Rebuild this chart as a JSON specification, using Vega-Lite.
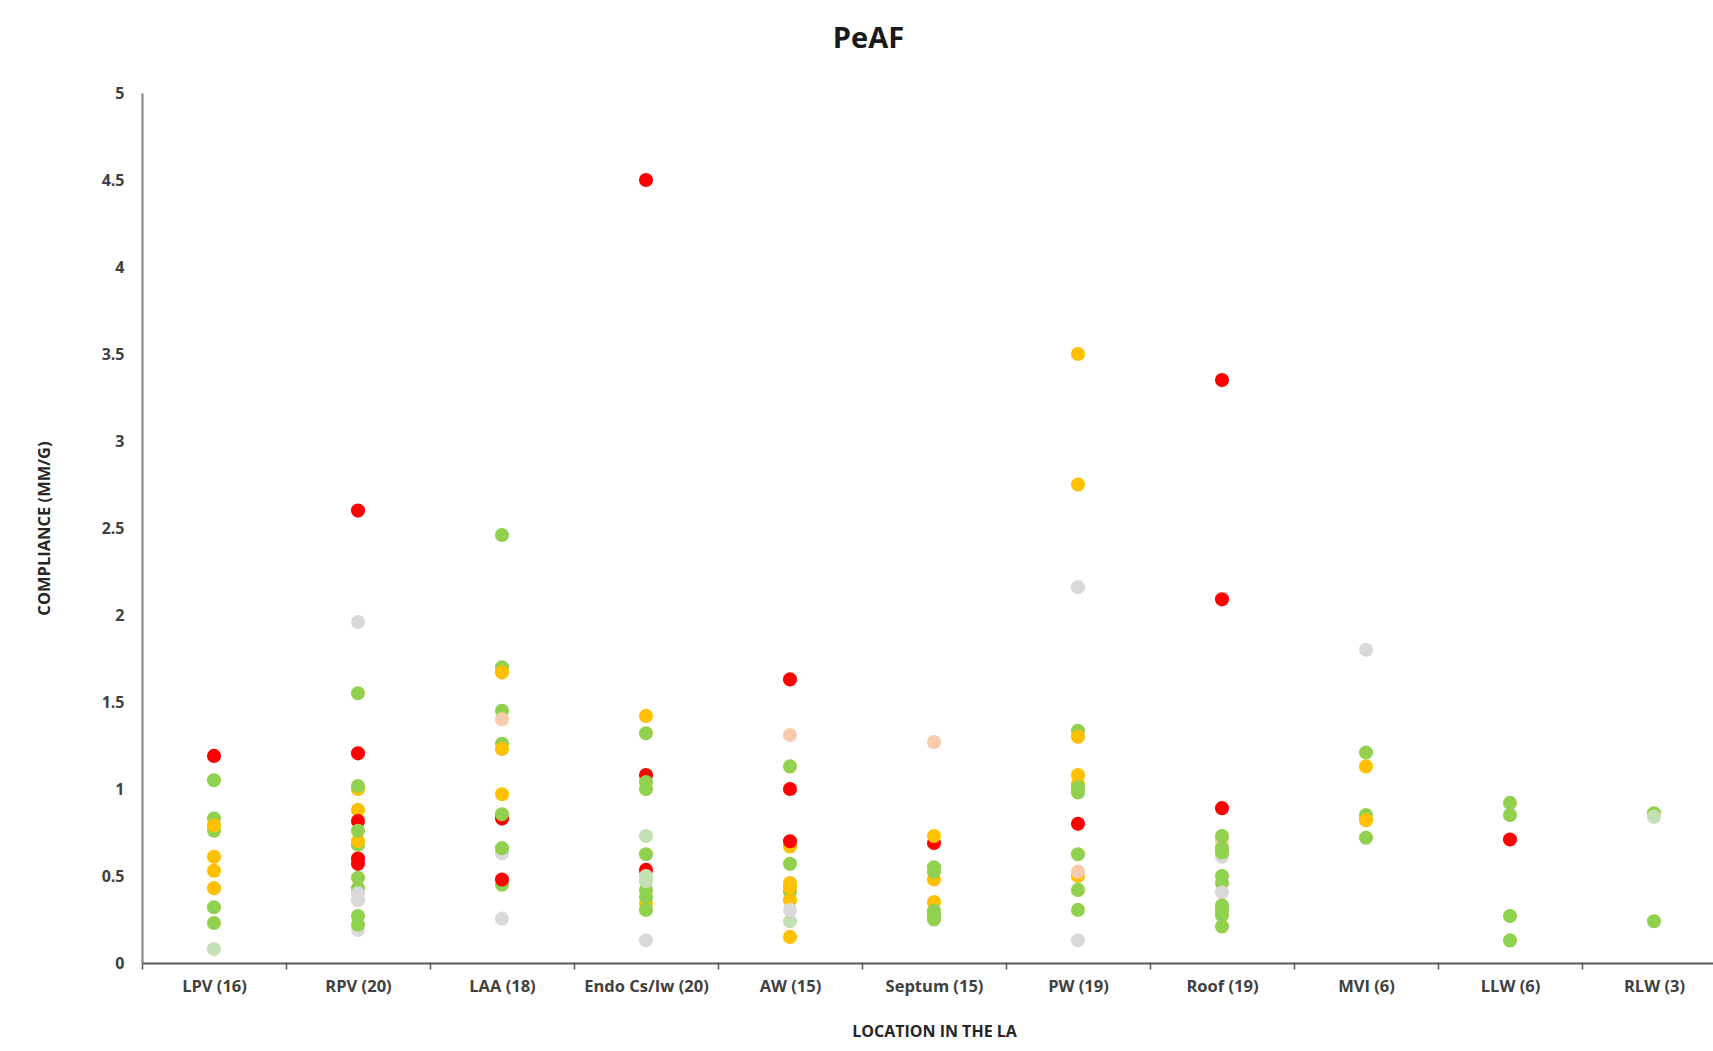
{
  "$schema": "https://vega.github.io/schema/vega-lite/v6.json",
  "width": 1571,
  "height": 870,
  "autosize": {"type": "none"},
  "padding": {"left": 142, "top": 93, "right": 0, "bottom": 88},
  "background": "white",
  "title": {
    "text": "PeAF",
    "font": "Open Sans",
    "fontSize": 29,
    "fontWeight": "bold",
    "color": "#1a1a1a",
    "anchor": "middle",
    "baseline": "middle",
    "offset": 17,
    "dx": -59
  },
  "config": {
    "view": {"stroke": null},
    "axis": {"grid": false, "labelFont": "Open Sans", "titleFont": "Open Sans", "labelFontWeight": "bold", "titleFontWeight": "bold", "labelColor": "#404040", "titleColor": "#262626"}
  },
  "data": {
    "values": [
      {"loc": "LPV (16)", "v": 1.19, "c": "r"},
      {"loc": "LPV (16)", "v": 1.05, "c": "g"},
      {"loc": "LPV (16)", "v": 0.83, "c": "g"},
      {"loc": "LPV (16)", "v": 0.76, "c": "g"},
      {"loc": "LPV (16)", "v": 0.79, "c": "o"},
      {"loc": "LPV (16)", "v": 0.61, "c": "o"},
      {"loc": "LPV (16)", "v": 0.53, "c": "o"},
      {"loc": "LPV (16)", "v": 0.43, "c": "o"},
      {"loc": "LPV (16)", "v": 0.32, "c": "g"},
      {"loc": "LPV (16)", "v": 0.23, "c": "g"},
      {"loc": "LPV (16)", "v": 0.08, "c": "l"},

      {"loc": "RPV (20)", "v": 2.60, "c": "r"},
      {"loc": "RPV (20)", "v": 1.96, "c": "y"},
      {"loc": "RPV (20)", "v": 1.55, "c": "g"},
      {"loc": "RPV (20)", "v": 1.205, "c": "r"},
      {"loc": "RPV (20)", "v": 1.0, "c": "o"},
      {"loc": "RPV (20)", "v": 1.017, "c": "g"},
      {"loc": "RPV (20)", "v": 0.88, "c": "o"},
      {"loc": "RPV (20)", "v": 0.816, "c": "r"},
      {"loc": "RPV (20)", "v": 0.68, "c": "g"},
      {"loc": "RPV (20)", "v": 0.70, "c": "o"},
      {"loc": "RPV (20)", "v": 0.76, "c": "g"},
      {"loc": "RPV (20)", "v": 0.60, "c": "r"},
      {"loc": "RPV (20)", "v": 0.57, "c": "r"},
      {"loc": "RPV (20)", "v": 0.49, "c": "g"},
      {"loc": "RPV (20)", "v": 0.43, "c": "g"},
      {"loc": "RPV (20)", "v": 0.40, "c": "y"},
      {"loc": "RPV (20)", "v": 0.36, "c": "y"},
      {"loc": "RPV (20)", "v": 0.19, "c": "y"},
      {"loc": "RPV (20)", "v": 0.27, "c": "g"},
      {"loc": "RPV (20)", "v": 0.22, "c": "g"},

      {"loc": "LAA (18)", "v": 2.46, "c": "g"},
      {"loc": "LAA (18)", "v": 1.70, "c": "g"},
      {"loc": "LAA (18)", "v": 1.67, "c": "o"},
      {"loc": "LAA (18)", "v": 1.45, "c": "g"},
      {"loc": "LAA (18)", "v": 1.40, "c": "p"},
      {"loc": "LAA (18)", "v": 1.26, "c": "g"},
      {"loc": "LAA (18)", "v": 1.23, "c": "o"},
      {"loc": "LAA (18)", "v": 0.97, "c": "o"},
      {"loc": "LAA (18)", "v": 0.83, "c": "r"},
      {"loc": "LAA (18)", "v": 0.855, "c": "g"},
      {"loc": "LAA (18)", "v": 0.63, "c": "y"},
      {"loc": "LAA (18)", "v": 0.66, "c": "g"},
      {"loc": "LAA (18)", "v": 0.45, "c": "g"},
      {"loc": "LAA (18)", "v": 0.48, "c": "r"},
      {"loc": "LAA (18)", "v": 0.255, "c": "y"},

      {"loc": "Endo Cs/Iw (20)", "v": 4.5, "c": "r"},
      {"loc": "Endo Cs/Iw (20)", "v": 1.42, "c": "o"},
      {"loc": "Endo Cs/Iw (20)", "v": 1.32, "c": "g"},
      {"loc": "Endo Cs/Iw (20)", "v": 1.08, "c": "r"},
      {"loc": "Endo Cs/Iw (20)", "v": 1.04, "c": "g"},
      {"loc": "Endo Cs/Iw (20)", "v": 1.00, "c": "g"},
      {"loc": "Endo Cs/Iw (20)", "v": 0.73, "c": "l"},
      {"loc": "Endo Cs/Iw (20)", "v": 0.625, "c": "g"},
      {"loc": "Endo Cs/Iw (20)", "v": 0.535, "c": "r"},
      {"loc": "Endo Cs/Iw (20)", "v": 0.34, "c": "o"},
      {"loc": "Endo Cs/Iw (20)", "v": 0.42, "c": "g"},
      {"loc": "Endo Cs/Iw (20)", "v": 0.38, "c": "g"},
      {"loc": "Endo Cs/Iw (20)", "v": 0.305, "c": "g"},
      {"loc": "Endo Cs/Iw (20)", "v": 0.50, "c": "l"},
      {"loc": "Endo Cs/Iw (20)", "v": 0.47, "c": "l"},
      {"loc": "Endo Cs/Iw (20)", "v": 0.13, "c": "y"},

      {"loc": "AW (15)", "v": 1.63, "c": "r"},
      {"loc": "AW (15)", "v": 1.31, "c": "p"},
      {"loc": "AW (15)", "v": 1.13, "c": "g"},
      {"loc": "AW (15)", "v": 1.00, "c": "r"},
      {"loc": "AW (15)", "v": 0.67, "c": "o"},
      {"loc": "AW (15)", "v": 0.70, "c": "r"},
      {"loc": "AW (15)", "v": 0.57, "c": "g"},
      {"loc": "AW (15)", "v": 0.41, "c": "g"},
      {"loc": "AW (15)", "v": 0.46, "c": "o"},
      {"loc": "AW (15)", "v": 0.435, "c": "o"},
      {"loc": "AW (15)", "v": 0.36, "c": "o"},
      {"loc": "AW (15)", "v": 0.24, "c": "l"},
      {"loc": "AW (15)", "v": 0.305, "c": "y"},
      {"loc": "AW (15)", "v": 0.15, "c": "o"},

      {"loc": "Septum (15)", "v": 1.27, "c": "p"},
      {"loc": "Septum (15)", "v": 0.69, "c": "r"},
      {"loc": "Septum (15)", "v": 0.73, "c": "o"},
      {"loc": "Septum (15)", "v": 0.48, "c": "o"},
      {"loc": "Septum (15)", "v": 0.55, "c": "g"},
      {"loc": "Septum (15)", "v": 0.525, "c": "g"},
      {"loc": "Septum (15)", "v": 0.35, "c": "o"},
      {"loc": "Septum (15)", "v": 0.30, "c": "g"},
      {"loc": "Septum (15)", "v": 0.275, "c": "g"},
      {"loc": "Septum (15)", "v": 0.25, "c": "g"},

      {"loc": "PW (19)", "v": 3.5, "c": "o"},
      {"loc": "PW (19)", "v": 2.75, "c": "o"},
      {"loc": "PW (19)", "v": 2.16, "c": "y"},
      {"loc": "PW (19)", "v": 1.335, "c": "g"},
      {"loc": "PW (19)", "v": 1.30, "c": "o"},
      {"loc": "PW (19)", "v": 1.08, "c": "o"},
      {"loc": "PW (19)", "v": 1.03, "c": "o"},
      {"loc": "PW (19)", "v": 1.01, "c": "g"},
      {"loc": "PW (19)", "v": 0.98, "c": "g"},
      {"loc": "PW (19)", "v": 0.80, "c": "r"},
      {"loc": "PW (19)", "v": 0.625, "c": "g"},
      {"loc": "PW (19)", "v": 0.50, "c": "o"},
      {"loc": "PW (19)", "v": 0.525, "c": "p"},
      {"loc": "PW (19)", "v": 0.42, "c": "g"},
      {"loc": "PW (19)", "v": 0.305, "c": "g"},
      {"loc": "PW (19)", "v": 0.13, "c": "y"},

      {"loc": "Roof (19)", "v": 3.35, "c": "r"},
      {"loc": "Roof (19)", "v": 2.09, "c": "r"},
      {"loc": "Roof (19)", "v": 0.89, "c": "r"},
      {"loc": "Roof (19)", "v": 0.70, "c": "p"},
      {"loc": "Roof (19)", "v": 0.61, "c": "y"},
      {"loc": "Roof (19)", "v": 0.73, "c": "g"},
      {"loc": "Roof (19)", "v": 0.66, "c": "g"},
      {"loc": "Roof (19)", "v": 0.635, "c": "g"},
      {"loc": "Roof (19)", "v": 0.50, "c": "g"},
      {"loc": "Roof (19)", "v": 0.46, "c": "g"},
      {"loc": "Roof (19)", "v": 0.405, "c": "y"},
      {"loc": "Roof (19)", "v": 0.33, "c": "g"},
      {"loc": "Roof (19)", "v": 0.305, "c": "g"},
      {"loc": "Roof (19)", "v": 0.275, "c": "g"},
      {"loc": "Roof (19)", "v": 0.21, "c": "g"},

      {"loc": "MVI (6)", "v": 1.80, "c": "y"},
      {"loc": "MVI (6)", "v": 1.21, "c": "g"},
      {"loc": "MVI (6)", "v": 1.13, "c": "o"},
      {"loc": "MVI (6)", "v": 0.85, "c": "g"},
      {"loc": "MVI (6)", "v": 0.82, "c": "o"},
      {"loc": "MVI (6)", "v": 0.72, "c": "g"},

      {"loc": "LLW (6)", "v": 0.92, "c": "g"},
      {"loc": "LLW (6)", "v": 0.85, "c": "g"},
      {"loc": "LLW (6)", "v": 0.71, "c": "r"},
      {"loc": "LLW (6)", "v": 0.27, "c": "g"},
      {"loc": "LLW (6)", "v": 0.13, "c": "g"},

      {"loc": "RLW (3)", "v": 0.86, "c": "g"},
      {"loc": "RLW (3)", "v": 0.84, "c": "l"},
      {"loc": "RLW (3)", "v": 0.24, "c": "g"}
    ]
  },
  "mark": {"type": "point", "filled": true, "opacity": 1, "size": 200, "shape": "circle", "strokeWidth": 0},
  "encoding": {
    "x": {
      "field": "loc",
      "type": "nominal",
      "sort": null,
      "scale": {"type": "band", "paddingInner": 0, "paddingOuter": 0, "range": [0, 1584]},
      "axis": {
        "title": "LOCATION IN THE LA",
        "labelAngle": 0,
        "labelFontSize": 16.5,
        "titleFontSize": 16,
        "tickBand": "extent",
        "ticks": true,
        "tickSize": 6,
        "tickColor": "#595959",
        "tickWidth": 1.5,
        "domainColor": "#595959",
        "domainWidth": 2,
        "labelPadding": 9,
        "titlePadding": 29
      }
    },
    "y": {
      "field": "v",
      "type": "quantitative",
      "scale": {"domain": [0, 5], "nice": false},
      "axis": {
        "title": "COMPLIANCE (MM/G)",
        "values": [0, 0.5, 1, 1.5, 2, 2.5, 3, 3.5, 4, 4.5, 5],
        "format": "~g",
        "ticks": false,
        "labelFontSize": 16,
        "titleFontSize": 16.5,
        "labelPadding": 18,
        "domainColor": "#7f7f7f",
        "domainWidth": 2,
        "titlePadding": 49
      }
    },
    "color": {
      "field": "c",
      "type": "nominal",
      "legend": null,
      "scale": {
        "domain": ["r", "o", "g", "y", "p", "l"],
        "range": ["#FF0000", "#FFC000", "#92D050", "#D9D9D9", "#F8CBAD", "#C5E0B4"]
      }
    }
  }
}
